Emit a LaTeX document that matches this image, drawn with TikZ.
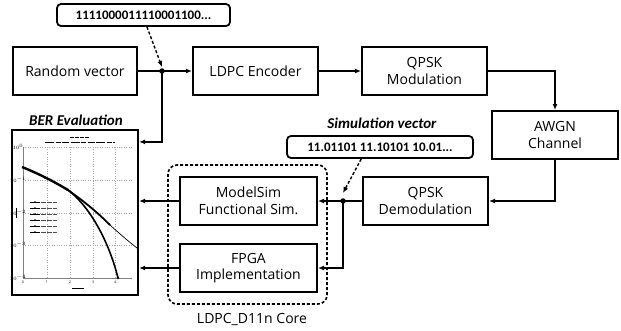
\documentclass[tikz,border=0pt]{standalone}
\usepackage{fontspec}
\setmainfont{Open Sans}
\newfontfamily\labelfont{Carlito}
\usetikzlibrary{arrows.meta,calc}

\begin{document}
\begin{tikzpicture}[x=1pt,y=-1pt,
  blockbox/.style={draw,line width=2pt,align=center,inner sep=0pt,
    font=\fontsize{14}{16.5}\selectfont},
  vecbox/.style={draw,line width=1.8pt,rounded corners=4pt,inner sep=0pt,
    font=\labelfont\bfseries\fontsize{13}{15}\selectfont},
  caption/.style={font=\labelfont\bfseries\itshape\fontsize{15}{17}\selectfont},
  conn/.style={line width=1.5pt},
  arrowline/.style={conn,-{Latex[length=6pt,width=5pt]}},
  dasharrow/.style={line width=1.4pt,dash pattern=on 3pt off 2pt,-{Latex[length=6pt,width=5pt]}},
  dot/.style={circle,fill,inner sep=0pt,minimum size=5.5pt},
  gridline/.style={gray!70,line width=0.4pt,dash pattern=on 0.8pt off 1.6pt},
  tick/.style={font=\fontsize{3.5}{4}\selectfont,inner sep=0pt}
]
\useasboundingbox (0,0) rectangle (621,330);

% main processing chain
\node[blockbox,minimum width=124pt,minimum height=48pt] (rv) at (75,71) {Random vector};
\node[blockbox,minimum width=125pt,minimum height=48pt] (enc) at (255.5,71) {LDPC Encoder};
\node[blockbox,minimum width=125pt,minimum height=48pt] (mod) at (424.5,71) {QPSK\\Modulation};
\node[blockbox,minimum width=126pt,minimum height=48pt] (awgn) at (555,135) {AWGN\\Channel};
\node[blockbox,minimum width=125pt,minimum height=48pt] (dem) at (425.5,201) {QPSK\\Demodulation};

% decoder core
\node[draw,line width=1.6pt,dash pattern=on 3pt off 2pt,rounded corners=9pt,
  minimum width=159pt,minimum height=139pt] (core) at (247.5,234.5) {};
\node[font=\fontsize{14}{16}\selectfont] (corelabel) at (252,320) {LDPC\_D11n Core};
\node[blockbox,minimum width=137pt,minimum height=48pt] (ms) at (248.5,201) {ModelSim\\Functional Sim.};
\node[blockbox,minimum width=137pt,minimum height=48pt] (fpga) at (248.5,268) {FPGA\\Implementation};

% BER plot
\node[caption] (bercap) at (76,120) {BER Evaluation};
\node[draw,line width=2.2pt,fill=white,minimum width=126pt,minimum height=165pt] (plot) at (75,212.5) {};
\begin{scope}
  \foreach \yy in {147,180,213,245,278}
    \draw[gridline] (23,\yy) -- (132,\yy);
  \foreach \xx in {47,70,93,115}
    \draw[gridline] (\xx,147) -- (\xx,278);
  \draw[gray,line width=0.5pt] (23,147) -- (23,278) -- (132,278);
  \foreach \yy/\ee in {147/0,180/-1,213/-2,245/-3,278/-4}
    \node[tick] at (18,\yy) {$10^{\ee}$};
  \foreach \xx/\vv in {23/0,47/1,70/2,93/3,115/4}
    \node[tick] at (\xx,282) {\vv};
  % title and axis captions
  \draw[line width=1pt,dash pattern=on 4pt off 1pt] (70,137) -- (90,137);
  \draw[line width=1pt,dash pattern=on 9pt off 1.5pt on 5pt off 1.5pt on 7pt off 1.5pt] (45,142) -- (115,142);
  \draw[line width=0.9pt] (72,288) -- (84,288);
  \draw[line width=0.9pt] (16,208) -- (16,218);
  % legend
  \foreach \k in {0,...,5}{
    \draw[line width=0.4pt] (30,202+6*\k) -- (40,202+6*\k);
    \fill (35,202+6*\k) circle (0.8pt);
    \draw[line width=1pt,gray!60!black,dash pattern=on 5pt off 1pt] (41,202+6*\k) -- (57,202+6*\k);
  }
  % BER curves
  \draw[line width=2.4pt] (22,167) .. controls (42,175) and (58,184) .. (68,190);
  \draw[line width=1.8pt] (68,190) .. controls (82,200) and (95,210) .. (110,225);
  \draw[line width=0.7pt] (110,225) .. controls (120,234) and (128,241) .. (137,248);
  \draw[line width=1.6pt] (68,190) .. controls (88,205) and (108,238) .. (118,278);
  \foreach \p in {(45,177.5),(68,190),(118,278)}
    \fill \p circle (1.4pt);
\end{scope}

% bit vector labels
\node[vecbox,minimum width=173pt,minimum height=22pt] (vec1) at (143.5,15) {1111000011110001100...};
\node[caption] (simcap) at (382,123) {Simulation vector};
\node[vecbox,minimum width=186pt,minimum height=22pt] (vec2) at (380,147) {11.01101 11.10101 10.01...};

% junctions
\coordinate (j1) at (162,71);
\coordinate (j2) at (343,201);
\node[dot] at (j1) {};
\node[dot] at (j2) {};

% connectors
\draw[conn] (rv.east) -- (j1);
\draw[arrowline] (j1) -- (enc.west);
\draw[arrowline] (j1) |- ([yshift=-13pt]plot.north east);
\draw[arrowline] (enc.east) -- (mod.west);
\draw[arrowline] (mod.east) -| (awgn.north);
\draw[arrowline] (awgn.south) |- (dem.east);
\draw[conn] (dem.west) -- (j2);
\draw[arrowline] (j2) -- (ms.east);
\draw[arrowline] (j2) |- (fpga.east);
\draw[arrowline] (ms.west) -- (ms.west -| plot.east);
\draw[arrowline] (fpga.west) -- (fpga.west -| plot.east);
\draw[dasharrow] ($(vec1.south west)!0.52!(vec1.south east)$) -- ([yshift=4pt]j1);
\draw[dasharrow] ($(vec2.south west)!0.4!(vec2.south east)$) -- ([yshift=8pt]j2);
\end{tikzpicture}
\end{document}
